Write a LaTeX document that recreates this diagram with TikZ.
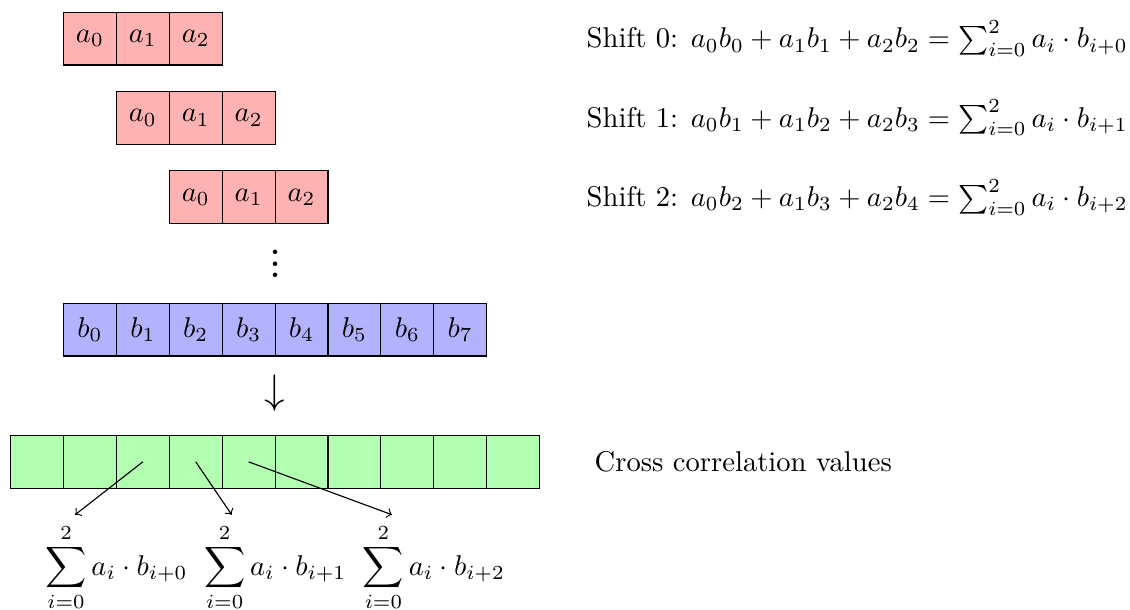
\documentclass[tikz,border=0pt]{standalone}
\usepackage{amsmath, amssymb}
\usepackage{tikz}
\tikzset{
  cell/.style={draw, minimum size=0.65cm, inner sep=0pt, outer sep=0pt},
  acell/.style={cell, fill=red!30},
  bcell/.style={cell, fill=blue!30},
  ccell/.style={cell, fill=green!30},
}

\begin{document}
\begin{tikzpicture}[x=0.65cm, y=0.65cm]
    \useasboundingbox (-1.2,0.73) rectangle (20.16,-10.8);
    % shifted copies of a
    \foreach \s in {0,1,2} {
      \foreach \i in {0,1,2} {
        \node[acell] (a\s\i) at ({\s+\i+0.5},{-1.5*\s}) {$a_{\i}$};
      }
    }
    \node[font=\bfseries] (dots) at (4,-4.1) {$\vdots$};
    % signal b
    \foreach \i in {0,...,7}
      \node[bcell] (b\i) at (\i+0.5,-5.5) {$b_{\i}$};
    \node (down) at (4,-6.7) {\Large$\downarrow$};
    % result row
    \foreach \i in {0,...,9}
      \node[ccell] (c\i) at (\i-0.5,-8) {};
    \node (s0) at (1,-10) {$\displaystyle\sum_{i=0}^{2} a_i \cdot b_{i+0}$};
    \node (s1) at (4,-10) {$\displaystyle\sum_{i=0}^{2} a_i \cdot b_{i+1}$};
    \node (s2) at (7,-10) {$\displaystyle\sum_{i=0}^{2} a_i \cdot b_{i+2}$};
    \coordinate (t0) at (0.22,-9);
    \coordinate (t1) at (3.18,-9);
    \coordinate (t2) at (6.21,-9);
    \draw[->] (c2.center) -- (t0);
    \draw[->] (c3.center) -- (t1);
    \draw[->] (c4.center) -- (t2);
    % right column
    \node[anchor=west] (sh0) at (9.7,0) {Shift 0: $a_0b_0 + a_1b_1 + a_2b_2 = \sum_{i=0}^{2} a_i \cdot b_{i+0}$};
    \node[anchor=west] (sh1) at (9.7,-1.5) {Shift 1: $a_0b_1 + a_1b_2 + a_2b_3 = \sum_{i=0}^{2} a_i \cdot b_{i+1}$};
    \node[anchor=west] (sh2) at (9.7,-3) {Shift 2: $a_0b_2 + a_1b_3 + a_2b_4 = \sum_{i=0}^{2} a_i \cdot b_{i+2}$};
    \node[anchor=west] (cross) at (9.85,-8) {Cross correlation values};
\end{tikzpicture}
\end{document}
